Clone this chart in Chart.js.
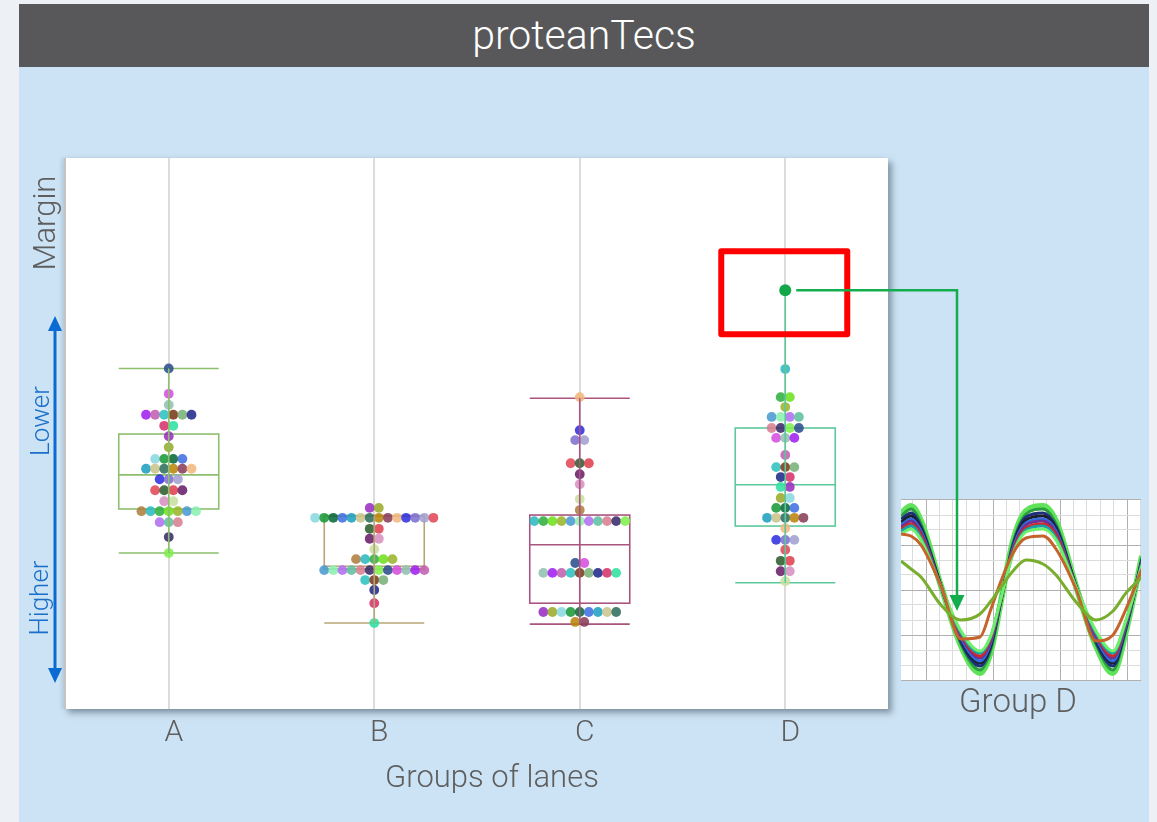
<!DOCTYPE html>
<html>
<head>
<meta charset="utf-8">
<script src="https://cdn.jsdelivr.net/npm/chart.js"></script>
<style>
  body { margin: 0; background: #edf1f5; width: 1157px; height: 822px; overflow: hidden; position: relative; font-family: Roboto, "Liberation Sans", sans-serif; font-weight: 300; }
  #header { position: absolute; left: 19px; top: 4px; width: 1130px; height: 63px; background: #58585a; color: #fff; font-size: 41px; line-height: 63px; text-align: center; }
  #body { position: absolute; left: 19px; top: 67px; width: 1130px; height: 755px; background: #cce3f5; }
  #panel { position: absolute; left: 64px; top: 158px; width: 822px; height: 551px; background: #fff; border-left: 2px solid #c4c4c4; box-shadow: -3px 0 3px rgba(0,0,0,0.08), 4px 4px 6px rgba(60,75,90,0.5); }
  #insetBox { position: absolute; left: 901px; top: 499px; width: 240px; height: 182px; background: #fff; }
  #main { position: absolute; left: 0; top: 0; }
  .lbl { position: absolute; transform: translate(-50%, -50%); white-space: nowrap; line-height: 1; }
  .rot { position: absolute; transform: translate(-50%, -50%) rotate(-90deg); white-space: nowrap; line-height: 1; }
</style>
</head>
<body>
<div id="header">proteanTecs</div>
<div id="body"></div>
<div id="panel"></div>
<div id="insetBox"><canvas id="wave" width="240" height="182"></canvas></div>
<canvas id="main" width="1157" height="822"></canvas>
<div class="rot" style="left:44px; top:223px; font-size:31px; color:#5e5e5e;">Margin</div>
<div class="rot" style="left:40px; top:421px; font-size:26px; color:#1a70c8;">Lower</div>
<div class="rot" style="left:39px; top:598px; font-size:26px; color:#1a70c8;">Higher</div>
<div class="lbl" style="left:492px; top:776px; font-size:31px; color:#5e5e5e;">Groups of lanes</div>
<div class="lbl" style="left:1018px; top:700px; font-size:33px; color:#5e5e5e;">Group D</div>
<script>
// groups of lanes
var groups = ['A', 'B', 'C', 'D'];

// margin value of each beeswarm row, and how many lanes sit on it
var rowsA = [61.8, 57.2, 55.2, 53.4, 51.4, 49.5, 47.5, 45.4, 43.6, 41.7, 39.7, 37.7, 35.9, 33.9, 31.2, 28.3];
var countsA = [1, 1, 1, 6, 2, 1, 1, 4, 6, 3, 4, 2, 7, 3, 1, 1];
var rowsB = [36.5, 34.7, 32.7, 30.9, 29.0, 27.2, 25.2, 23.4, 21.6, 19.2, 15.6];
var countsB = [2, 14, 2, 2, 1, 5, 12, 3, 1, 1, 1];
var rowsC = [56.6, 50.6, 48.8, 44.6, 42.6, 40.8, 38.1, 36.1, 34.1, 26.5, 24.7, 17.6, 15.8];
var countsC = [1, 1, 2, 3, 1, 1, 1, 1, 11, 2, 9, 9, 2];
var rowsD = [61.7, 56.6, 54.8, 53.0, 51.0, 49.2, 46.1, 43.9, 42.1, 40.3, 38.3, 36.5, 34.7, 32.8, 30.7, 28.9, 26.9, 25.0, 23.2];
var countsD = [1, 2, 1, 4, 4, 3, 1, 3, 2, 2, 2, 3, 5, 1, 3, 1, 2, 2, 1];

// box plot stats per group
var boxMin = [28.3, 15.6, 15.4, 22.9];
var boxQ1 = [36.3, 25.4, 19.2, 33.2];
var boxMedian = [42.5, 25.9, 29.8, 40.7];
var boxQ3 = [49.9, 35.0, 35.2, 51.0];
var boxMax = [61.8, 35.0, 56.4, 76.0];

// the lane that stands out in group D
var outlierGroup = 3;
var outlierValue = 76.0;

// inset: Group D waveforms (x along the trace, y level)
var waveX = [0, 10, 20, 40, 60, 79, 90, 100, 112, 125, 142, 155, 175, 195, 212, 225, 241];
var waveOuter  = [168, 175, 160, 95, 35, 8, 30, 80, 140, 170, 175, 160, 95, 35, 8, 50, 125];
var waveGreen  = [165, 172, 157, 95, 37, 11, 32, 80, 138, 167, 172, 157, 95, 37, 11, 52, 124];
var waveNavy   = [162, 168, 154, 95, 39, 15, 35, 81, 136, 164, 168, 154, 95, 39, 15, 53, 122];
var waveBlack  = [159, 165, 152, 95, 42, 18, 37, 81, 134, 161, 165, 152, 95, 42, 18, 55, 121];
var waveBlue   = [156, 162, 150, 94, 43, 20, 39, 82, 133, 158, 162, 150, 94, 43, 20, 56, 120];
var wavePurple = [154, 160, 148, 94, 45, 23, 41, 82, 131, 156, 160, 148, 94, 45, 23, 57, 119];
var waveRed    = [152, 157, 146, 94, 47, 25, 43, 82, 130, 153, 157, 146, 94, 47, 25, 59, 118];
var waveTeal   = [150, 155, 143, 94, 48, 28, 45, 83, 128, 151, 155, 143, 94, 48, 28, 60, 117];
var waveLight  = [147, 152, 141, 94, 50, 30, 46, 83, 127, 149, 152, 141, 94, 50, 30, 61, 116];
var waveBrown  = [147, 145, 136, 95, 42, 44, 72, 100, 128, 143, 145, 132, 92, 40, 46, 72, 112];
var waveOlive  = [120, 112, 104, 76, 61, 67, 80, 94, 110, 121, 117, 106, 79, 61, 70, 88, 104];
// where the callout arrow lands in the inset
var arrowTarget = {x: 56, y: 70};

var boxColors = ['#8dbf6f', '#b9a677', '#a9557f', '#5ec89c'];
var dotPalette = ['#2f4f8f', '#d6336c', '#c9c48a', '#2e5e2e', '#9bb52c', '#d64ee0', '#2fe0a0', '#2f6f5f',
  '#e04050', '#4a9ad0', '#8fc0b0', '#9a30c0', '#b8860b', '#6a1f6a', '#8af0b0', '#a020f0', '#9aab2a',
  '#8a3f5a', '#d78fc0', '#b070f0', '#c060b0', '#8ad8e0', '#f0b880', '#c8e0a0', '#60c0a0', '#30c0c0',
  '#1a9a3a', '#3030e0', '#b08040', '#d88090', '#7a3a1a', '#0a6a3a', '#8070d0', '#30b8c0', '#3a2a6a',
  '#7ab07a', '#4070e0', '#a0a0d0', '#30b040', '#80f050', '#202a8a', '#20a0c0', '#e04858', '#70e020'];

var font = 'Roboto, "Liberation Sans", sans-serif';

// ---------- inset chart ----------
var waves = [
  {d: waveOlive, c: '#78ad2e', w: 3},
  {d: waveBrown, c: '#c4642c', w: 3},
  {d: waveLight, c: '#6ef06a', w: 3},
  {d: waveTeal, c: '#1aa1a8', w: 3},
  {d: waveRed, c: '#d02828', w: 3},
  {d: wavePurple, c: '#6e2f96', w: 3},
  {d: waveBlue, c: '#2d6fe0', w: 3},
  {d: waveBlack, c: '#1e1e2e', w: 3},
  {d: waveNavy, c: '#1c2f7a', w: 3},
  {d: waveGreen, c: '#2b9e3e', w: 3},
  {d: waveOuter, c: '#5fe35a', w: 6}
];

var insetChart = new Chart(document.getElementById('wave'), {
  type: 'line',
  data: {
    datasets: waves.map(function (wv) {
      return {
        data: waveX.map(function (x, i) { return {x: x, y: wv.d[i]}; }),
        borderColor: wv.c,
        borderWidth: wv.w,
        pointRadius: 0,
        cubicInterpolationMode: 'monotone',
        fill: false
      };
    })
  },
  options: {
    responsive: false,
    animation: false,
    events: [],
    layout: {padding: 0},
    plugins: {legend: {display: false}, tooltip: {enabled: false}},
    scales: {
      x: {
        type: 'linear', min: 0, max: 240,
        afterBuildTicks: function (s) {
          var t = [];
          for (var k = -1; k <= 16; k++) t.push({value: 25 + 13.4 * k, major: k % 5 === 0});
          s.ticks = t;
        },
        afterFit: function (s) { s.height = 0; },
        ticks: {display: false},
        grid: {drawTicks: false, lineWidth: 1, color: function (c) { return c.tick && c.tick.major ? '#b0b0b0' : '#dcdcdc'; }},
        border: {display: false}
      },
      y: {
        min: 0, max: 182,
        afterBuildTicks: function (s) {
          var t = [];
          for (var k = -6; k <= 6; k++) t.push({value: 91 + 15 * k, major: k % 3 === 0});
          s.ticks = t;
        },
        afterFit: function (s) { s.width = 0; },
        ticks: {display: false},
        grid: {drawTicks: false, lineWidth: 1, color: function (c) { return c.tick && c.tick.major ? '#b0b0b0' : '#dcdcdc'; }},
        border: {display: false}
      }
    }
  }
});

// ---------- main chart ----------
var allRows = [rowsA, rowsB, rowsC, rowsD];
var allCounts = [countsA, countsB, countsC, countsD];
var dotStep = 9.1 / (822 / 4); // one dot width in group units

function swarm(g) {
  var pts = [], cols = [], n = 0;
  allRows[g].forEach(function (v, r) {
    var cnt = allCounts[g][r];
    for (var k = 0; k < cnt; k++) {
      pts.push({x: g + (k - (cnt - 1) / 2) * dotStep, y: v});
      cols.push(dotPalette[(g * 11 + n * 5) % dotPalette.length] + 'e0');
      n++;
    }
  });
  return {data: pts, pointBackgroundColor: cols, pointRadius: 4.9, pointBorderWidth: 0};
}

var datasets = groups.map(function (g, i) { return swarm(i); });
datasets.push({data: [{x: outlierGroup, y: outlierValue}], pointBackgroundColor: '#12a84a', pointRadius: 6, pointBorderWidth: 0});

var overlay = {
  id: 'overlay',
  beforeDatasetsDraw: function (chart) {
    var ctx = chart.ctx, x = chart.scales.x, y = chart.scales.y;
    ctx.save();
    groups.forEach(function (g, i) {
      var cx = x.getPixelForValue(i), half = 50;
      ctx.strokeStyle = boxColors[i];
      ctx.lineWidth = 1.6;
      var top = y.getPixelForValue(boxQ3[i]), bot = y.getPixelForValue(boxQ1[i]);
      var med = y.getPixelForValue(boxMedian[i]);
      var lo = y.getPixelForValue(boxMin[i]), hi = y.getPixelForValue(boxMax[i]);
      ctx.beginPath();
      ctx.moveTo(cx - half, med); ctx.lineTo(cx + half, med);
      ctx.moveTo(cx - half, lo); ctx.lineTo(cx + half, lo);
      if (i !== outlierGroup) { ctx.moveTo(cx - half, hi); ctx.lineTo(cx + half, hi); }
      ctx.stroke();
      ctx.strokeRect(cx - half, top, half * 2, bot - top);
    });
    ctx.restore();
  },
  afterDatasetsDraw: function (chart) {
    var ctx = chart.ctx, x = chart.scales.x, y = chart.scales.y;
    ctx.save();
    // whiskers run over the dots
    groups.forEach(function (g, i) {
      var cx = x.getPixelForValue(i);
      ctx.strokeStyle = boxColors[i];
      ctx.lineWidth = 1.6;
      ctx.beginPath();
      ctx.moveTo(cx, y.getPixelForValue(boxMin[i]));
      ctx.lineTo(cx, y.getPixelForValue(boxMax[i]) + (i === outlierGroup ? 6 : 0));
      ctx.stroke();
    });
    var ox = x.getPixelForValue(outlierGroup), oy = y.getPixelForValue(outlierValue);
    // red highlight round the outlier
    ctx.strokeStyle = '#ff0000';
    ctx.lineWidth = 6;
    ctx.lineJoin = 'round';
    ctx.strokeRect(ox - 64, oy - 39, 126, 83);
    // connector to the inset waveform
    var tx = 901 + insetChart.scales.x.getPixelForValue(arrowTarget.x);
    var ty = 499 + insetChart.scales.y.getPixelForValue(arrowTarget.y);
    ctx.strokeStyle = '#14ad4e';
    ctx.fillStyle = '#14ad4e';
    ctx.lineWidth = 2.5;
    ctx.lineJoin = 'miter';
    ctx.beginPath();
    ctx.moveTo(ox + 11, oy); ctx.lineTo(tx, oy); ctx.lineTo(tx, ty - 14);
    ctx.stroke();
    ctx.beginPath();
    ctx.moveTo(tx - 7.5, ty - 16); ctx.lineTo(tx + 7.5, ty - 16); ctx.lineTo(tx, ty);
    ctx.closePath();
    ctx.fill();
    // Lower / Higher double arrow
    ctx.strokeStyle = '#0b6bd3';
    ctx.fillStyle = '#0b6bd3';
    ctx.lineWidth = 3;
    ctx.beginPath();
    ctx.moveTo(55, 328); ctx.lineTo(55, 671);
    ctx.stroke();
    ctx.beginPath();
    ctx.moveTo(55, 316); ctx.lineTo(48, 331); ctx.lineTo(62, 331); ctx.closePath();
    ctx.moveTo(55, 683); ctx.lineTo(48, 668); ctx.lineTo(62, 668); ctx.closePath();
    ctx.fill();
    ctx.restore();
  }
};

var mainChart = new Chart(document.getElementById('main'), {
  type: 'scatter',
  data: {datasets: datasets},
  options: {
    responsive: false,
    animation: false,
    events: [],
    layout: {padding: {left: 66, top: 158, right: 269, bottom: 0}},
    plugins: {legend: {display: false}, tooltip: {enabled: false}},
    scales: {
      x: {
        type: 'linear', min: -0.5, max: 3.5,
        afterBuildTicks: function (s) { s.ticks = groups.map(function (g, i) { return {value: i}; }); },
        afterFit: function (s) { s.height = 113; },
        grid: {color: '#dcdcdc', lineWidth: 2, drawTicks: false},
        border: {display: false},
        ticks: {
          callback: function (v) { return groups[v]; },
          color: '#5e5e5e',
          font: {family: font, size: 30, weight: '300'},
          padding: 6,
          labelOffset: 5,
          autoSkip: false,
          maxRotation: 0
        }
      },
      y: {display: false, min: 0, max: 100}
    }
  },
  plugins: [overlay]
});
</script>
</body>
</html>
